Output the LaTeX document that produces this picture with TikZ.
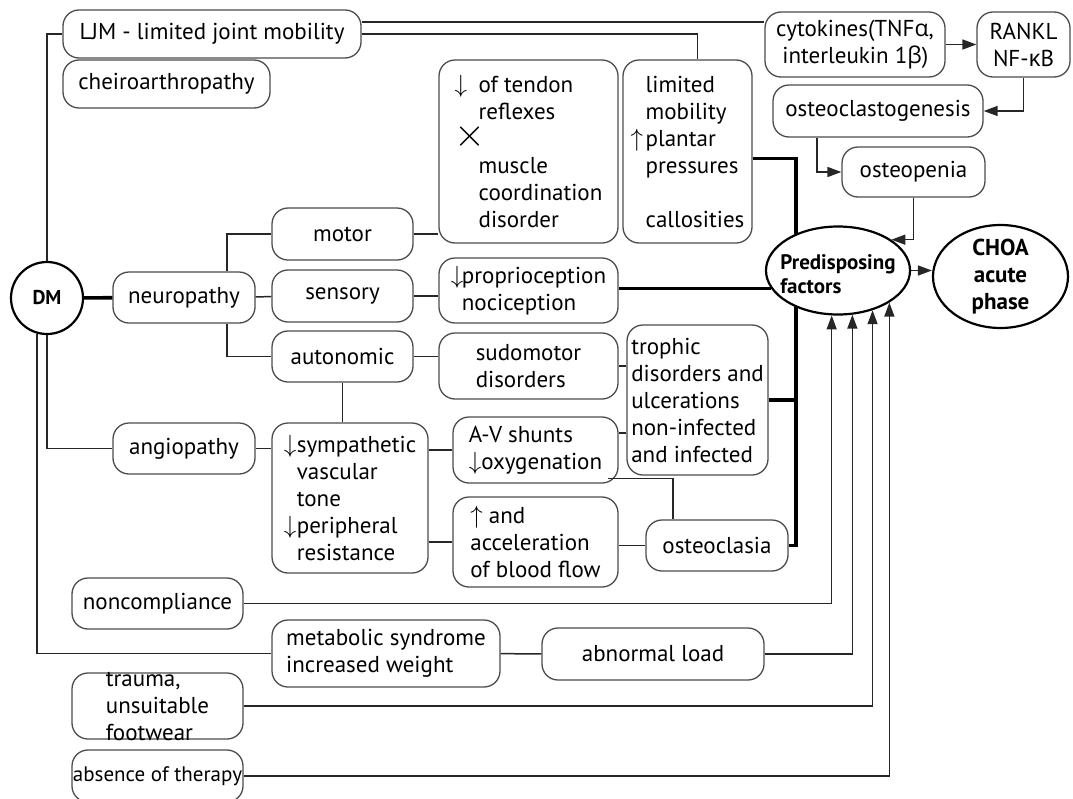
\documentclass[tikz,border=0pt]{standalone}
\usepackage{fontspec}
\setmainfont{PT Sans}
\newfontfamily\grk{Open Sans}
\usetikzlibrary{shapes.geometric, arrows.meta}
\newcommand{\lpad}[2][14pt]{\makebox[#1][l]{#2}}
\newcommand{\bigx}{\scalebox{1.6}{$\times$}}

\begin{document}
\begin{tikzpicture}[x=1pt, y=-1pt,
    every node/.style={font=\fontsize{23}{27}\selectfont},
    box/.style={draw=black!70, line width=1.3pt, rounded corners=16pt, inner sep=0pt, align=left},
    oval/.style={draw, ellipse, line width=2.2pt, inner sep=0pt},
    link/.style={line width=1.5pt, black!85},
    heavy/.style={line width=3.6pt},
    arr/.style={link, -{Triangle[length=14pt, width=10pt]}}]

    \useasboundingbox (0,0) rectangle (1073,798);

    \node (dm) [draw, circle, line width=2.2pt, minimum size=72pt, inner sep=0pt, font=\fontsize{20}{24}\selectfont\bfseries] at (47,298) {DM};
    \node (ljm) [box, minimum width=298pt, minimum height=48pt] at (212,34) {LJM - limited joint mobility};
    \node (cheiro) [box, minimum width=207pt, minimum height=48pt] at (166.5,84) {cheiroarthropathy};
    \node (neuro) [box, minimum width=142pt, minimum height=51pt] at (184,297.5) {neuropathy};
    \node (angio) [box, minimum width=142pt, minimum height=51pt] at (184,448.5) {angiopathy};
    \node (motor) [box, minimum width=141pt, minimum height=52pt] at (342.5,234) {motor};
    \node (sensory) [box, minimum width=141pt, minimum height=52pt] at (342.5,296) {sensory};
    \node (auton) [box, minimum width=141pt, minimum height=51pt] at (342.5,356.5) {autonomic};
    \node (symp) [box, minimum width=156pt, minimum height=150pt] at (350,498) {\lpad[13pt]{$\downarrow$}sympathetic\\\lpad[13pt]{}vascular\\\lpad[13pt]{}tone\\\lpad[13pt]{$\downarrow$}peripheral\\\lpad[13pt]{}resistance};
    \node (tendon) [box, minimum width=179pt, minimum height=183pt] at (528.5,151.5) {\lpad[24pt]{$\downarrow$}of tendon\\\lpad[24pt]{}reflexes\\\lpad[24pt]{\bigx}\\\lpad[24pt]{}muscle\\\lpad[24pt]{}coordination\\\lpad[24pt]{}disorder};
    \node (limmob) [box, minimum width=129pt, minimum height=183pt] at (687.5,151.5) {\lpad[15pt]{}limited\\\lpad[15pt]{}mobility\\\lpad[15pt]{$\uparrow$}plantar\\\lpad[15pt]{}pressures\\[27pt]\lpad[15pt]{}callosities};
    \node (propr) [box, minimum width=179pt, minimum height=65pt] at (528.5,290.5) {\lpad[11pt]{$\downarrow$}proprioception\\\lpad[11pt]{}nociception};
    \node (sudo) [box, minimum width=179pt, minimum height=66pt] at (528.5,366) {sudomotor\\disorders};
    \node (trophic) [box, minimum width=141pt, minimum height=150pt] at (697.5,400) {trophic\\disorders and\\ulcerations\\non-infected\\and infected};
    \node (avs) [box, minimum width=165pt, minimum height=66pt] at (535.5,450) {A-V shunts\\$\downarrow$oxygenation};
    \node (blood) [box, minimum width=165pt, minimum height=90pt] at (535.5,542) {$\uparrow$ and\\acceleration\\of blood flow};
    \node (osteocl) [box, minimum width=142pt, minimum height=51pt] at (717,545.5) {osteoclasia};

    \node (cyto) [box, minimum width=180pt, minimum height=65pt] at (855,44.5) {cytokines(TNF{\grk α},\\\ interleukin 1{\grk β})};
    \node (rankl) [box, minimum width=93pt, minimum height=65pt, align=center] at (1023.5,44.5) {RANKL\\NF-{\grk κ}B};
    \node (osteogen) [box, minimum width=210pt, minimum height=52pt] at (878,111) {osteoclastogenesis};
    \node (osteopen) [box, minimum width=143pt, minimum height=50pt] at (913.5,172) {osteopenia};
    \node (pf) [oval, minimum width=144pt, minimum height=88pt, label={[align=left, yshift=-4pt, font=\fontsize{21}{24}\selectfont\bfseries]center:Predisposing\\factors}] at (838,270.5) {};
    \node (choa) [oval, minimum width=135pt, minimum height=103pt, label={[align=center, font=\fontsize{23}{27}\selectfont\bfseries]center:CHOA\\acute\\phase}] at (1000.5,276.5) {};

    \node (noncomp) [box, minimum width=171pt, minimum height=51pt] at (157.5,603.5) {noncompliance};
    \node (metab) [box, minimum width=228pt, minimum height=67pt] at (386,653.5) {metabolic syndrome\\increased weight};
    \node (abnload) [box, minimum width=222pt, minimum height=52pt] at (653,654) {abnormal load};
    \node (trauma) [box, minimum width=171pt, minimum height=66pt, label={[align=left]center:trauma,\\unsuitable\\footwear}] at (157.5,706) {};
    \node (absence) [box, minimum width=171pt, minimum height=52pt, label={[font=\fontsize{21}{27}\selectfont]center:absence of therapy}] at (157.5,776) {};

    \draw [link] (dm.north) |- (ljm.west);
    \draw [link] ([yshift=12pt]ljm.east) -- ([yshift=12pt]ljm.east -| cyto.west);
    \draw [link] (ljm.east) -| ([xshift=10pt]limmob.north);
    \draw [heavy] (dm) -- (neuro);
    \draw [link] ([xshift=43pt]neuro.north) |- (motor.west);
    \draw [link] (neuro) -- (sensory);
    \draw [link] ([xshift=43pt]neuro.south) |- (auton.west);
    \draw [link] (motor.east) -- (motor.east -| tendon.west);
    \draw [link] (sensory.east) -- (sensory.east -| propr.west);
    \draw [link] (auton.east) -- (auton.east -| sudo.west);
    \draw [link] (sudo.east) -- (sudo.east -| trophic.west);
    \draw [link] (auton.south) -- (auton.south |- symp.north);
    \draw [link] (dm.south) |- (angio.west);
    \draw [link] (angio.east) -- (angio.east -| symp.west);
    \draw [link] (symp.east |- avs.west) -- (avs.west);
    \draw [link] (symp.east |- blood.west) -- (blood.west);
    \draw [link] ([yshift=17pt]avs.east) -- ([yshift=17pt]avs.east -| trophic.west);
    \draw [link] ([xshift=-11pt, yshift=5pt]avs.south east) -| ([xshift=-44pt]osteocl.north);
    \draw [link] (blood.east |- osteocl.west) -- (osteocl.west);
    \draw [link] (dm.-106) |- (metab.west);
    \draw [link] (metab) -- (abnload);

    \draw [heavy] ([yshift=-7pt]limmob.east) -| (pf.139);
    \draw [heavy] (propr.east |- pf.195) -- (pf.195);
    \draw [heavy] (osteocl.east) -| (pf.221);
    \draw [heavy] (trophic.east) -- (trophic.east -| pf.221);

    \draw [arr] (cyto) -- (rankl);
    \draw [arr] (rankl.south) |- (osteogen.east);
    \draw [arr] ([xshift=-61pt]osteogen.south) |- (osteopen.west);
    \draw [arr] (osteopen.south) |- (pf.30);
    \draw [arr] (pf.east) -- (pf.east -| choa.west);
    \foreach \src/\ang in {noncomp/-98, abnload/-72, trauma/-49, absence/-32}
        \draw [arr] (\src.east) -| (pf.\ang);

\end{tikzpicture}
\end{document}
